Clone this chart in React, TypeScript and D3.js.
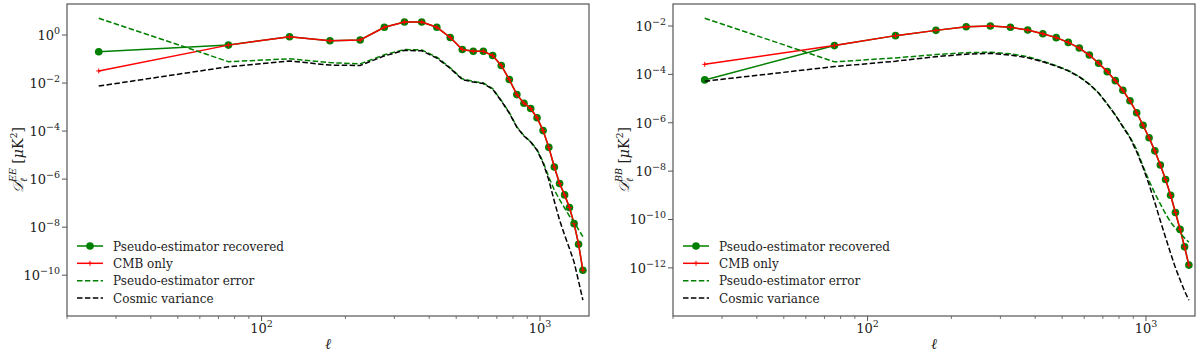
import React from 'react';
import * as d3 from 'd3';

// multipole bin centres
const ELL = [26, 76, 126, 176, 226, 276, 326, 376, 426, 476, 526, 576, 626, 676, 726,
  776, 826, 876, 926, 976, 1026, 1076, 1126, 1176, 1226, 1276, 1326, 1376, 1426];

// EE panel
const EE_RECOVERED = [2.0e-1, 3.8e-1, 8.5e-1, 5.8e-1, 6.2e-1, 2.1, 3.5, 3.5, 2.1, 7.9e-1,
  2.5e-1, 2.1e-1, 2.1e-1, 1.4e-1, 5.4e-2, 1.4e-2, 3.3e-3, 1.45e-3, 8.7e-4, 3.6e-4,
  1.05e-4, 2.1e-5, 3.2e-6, 6.6e-7, 2.2e-7, 6.6e-8, 1.4e-8, 1.95e-9, 1.6e-10];
const EE_CMB = [3.2e-2, 3.8e-1, 8.5e-1, 5.8e-1, 6.2e-1, 2.1, 3.5, 3.5, 2.1, 7.9e-1,
  2.5e-1, 2.1e-1, 2.1e-1, 1.4e-1, 5.4e-2, 1.4e-2, 3.3e-3, 1.45e-3, 8.7e-4, 3.6e-4,
  1.05e-4, 2.1e-5, 3.2e-6, 6.6e-7, 2.2e-7, 6.6e-8, 1.4e-8, 1.95e-9, 1.6e-10];
const EE_ERROR = [5.0, 7.8e-2, 1.02e-1, 7.1e-2, 6.3e-2, 1.5e-1, 2.5e-1, 2.4e-1, 1.2e-1, 4.3e-2,
  1.5e-2, 1.17e-2, 1.0e-2, 5.9e-3, 1.9e-3, 5.9e-4, 1.5e-4, 6.5e-5, 3.6e-5, 1.7e-5,
  5.2e-6, 1.2e-6, 3.5e-7, 1.4e-7, 6.2e-8, 2.9e-8, 1.6e-8, 7.9e-9, 4.0e-9];
const EE_COSMIC = [7.5e-3, 4.8e-2, 8.3e-2, 5.6e-2, 5.4e-2, 1.35e-1, 2.3e-1, 2.2e-1, 1.1e-1, 4.1e-2,
  1.4e-2, 1.1e-2, 9.5e-3, 5.6e-3, 1.8e-3, 5.6e-4, 1.45e-4, 6.2e-5, 3.5e-5, 1.6e-5,
  4.7e-6, 9.1e-7, 1.2e-7, 1.95e-8, 4.7e-9, 1.3e-9, 3.5e-10, 5.6e-11, 9.1e-12];

// BB panel
const BB_RECOVERED = [5.9e-5, 1.55e-3, 4.0e-3, 6.6e-3, 9.3e-3, 1.0e-2, 8.9e-3, 6.8e-3, 4.8e-3, 3.3e-3,
  2.1e-3, 1.23e-3, 6.3e-4, 2.9e-4, 1.3e-4, 5.5e-5, 2.2e-5, 8.1e-6, 2.6e-6, 7.9e-7,
  2.4e-7, 6.9e-8, 1.8e-8, 4.5e-9, 1.0e-9, 1.95e-10, 3.9e-11, 7.4e-12, 1.3e-12];
const BB_CMB = [2.6e-4, 1.55e-3, 4.0e-3, 6.6e-3, 9.3e-3, 1.0e-2, 8.9e-3, 6.8e-3, 4.8e-3, 3.3e-3,
  2.1e-3, 1.23e-3, 6.3e-4, 2.9e-4, 1.3e-4, 5.5e-5, 2.2e-5, 8.1e-6, 2.6e-6, 7.9e-7,
  2.4e-7, 6.9e-8, 1.8e-8, 4.5e-9, 1.0e-9, 1.95e-10, 3.9e-11, 7.4e-12, 1.3e-12];
const BB_ERROR = [2.1e-2, 3.3e-4, 4.8e-4, 6.6e-4, 7.9e-4, 8.3e-4, 7.1e-4, 5.4e-4, 3.5e-4, 2.3e-4,
  1.45e-4, 8.1e-5, 4.0e-5, 1.7e-5, 6.0e-6, 2.1e-6, 7.1e-7, 2.6e-7, 7.6e-8, 1.6e-8,
  4.0e-9, 1.2e-9, 4.4e-10, 1.7e-10, 7.8e-11, 4.4e-11, 2.8e-11, 1.7e-11, 1.15e-11];
const BB_COSMIC = [5.2e-5, 2.1e-4, 3.5e-4, 5.4e-4, 6.8e-4, 7.4e-4, 6.3e-4, 4.9e-4, 3.3e-4, 2.2e-4,
  1.4e-4, 7.9e-5, 3.9e-5, 1.7e-5, 5.9e-6, 2.1e-6, 6.8e-7, 2.4e-7, 6.3e-8, 1.4e-8,
  2.8e-9, 5.0e-10, 8.9e-11, 1.8e-11, 4.0e-12, 1.0e-12, 3.2e-13, 1.1e-13, 4.6e-14];

const X_MAJOR = [100, 1000];
const X_MINOR = [20, 30, 40, 50, 60, 70, 80, 90, 200, 300, 400, 500, 600, 700, 800, 900];
const EE_TICKS = [0, -2, -4, -6, -8, -10];
const BB_TICKS = [-2, -4, -6, -8, -10, -12];
const LEGEND = ['Pseudo-estimator recovered', 'CMB only', 'Pseudo-estimator error', 'Cosmic variance'];

const GREEN = '#008000';
const RED = '#ff0000';
const serif = { fontFamily: "'DejaVu Serif', serif" };

function Panel({ left, right, yDomain, yTicks, spec, recovered, cmb, error, cosmic }) {
  const top = 4;
  const bottom = 316;
  const x = d3.scaleLog().domain([20, 1500]).range([left, right]);
  const y = d3.scaleLog().domain(yDomain).range([top, bottom]);
  const line = d3.line<number>().x((_, i) => x(ELL[i])).y(d => y(d));

  const legendY = [246, 263.3, 280.7, 298];
  const lx = left + 10;

  return (
    <g>
      {/* data */}
      <path d={line(recovered)} fill="none" stroke={GREEN} strokeWidth={1.5} />
      {recovered.map((v, i) => (
        <circle key={'c' + i} cx={x(ELL[i])} cy={y(v)} r={3.8} fill={GREEN} />
      ))}
      <path d={line(cmb)} fill="none" stroke={RED} strokeWidth={1.5} />
      {cmb.map((v, i) => (
        <path key={'p' + i} d={`M${x(ELL[i]) - 2.5},${y(v)}h5M${x(ELL[i])},${y(v) - 2.5}v5`} stroke={RED} strokeWidth={1} />
      ))}
      <path d={line(error)} fill="none" stroke={GREEN} strokeWidth={1.5} strokeDasharray="5.5,2.4" />
      <path d={line(cosmic)} fill="none" stroke="#000" strokeWidth={1.5} strokeDasharray="5.5,2.4" />

      {/* frame */}
      <rect x={left} y={top} width={right - left} height={bottom - top} fill="none" stroke="#555" strokeWidth={1.2} />

      {/* x ticks */}
      {X_MAJOR.map(t => (
        <g key={'xm' + t}>
          <line x1={x(t)} x2={x(t)} y1={bottom} y2={bottom + 5} stroke="#555" strokeWidth={1} />
          <text x={x(t)} y={333} textAnchor="middle" style={serif} fontSize={13} fill="#222">
            10<tspan fontSize={9.5} dy={-6}>{Math.log10(t)}</tspan>
          </text>
        </g>
      ))}
      {X_MINOR.map(t => (
        <line key={'xn' + t} x1={x(t)} x2={x(t)} y1={bottom} y2={bottom + 3} stroke="#555" strokeWidth={0.8} />
      ))}
      <text x={(left + right) / 2} y={349} textAnchor="middle" style={serif} fontStyle="italic" fontSize={15} fill="#222">ℓ</text>

      {/* y ticks */}
      {yTicks.map(e => (
        <g key={'y' + e}>
          <line x1={left - 5} x2={left} y1={y(10 ** e)} y2={y(10 ** e)} stroke="#555" strokeWidth={1} />
          <text x={left - 7} y={y(10 ** e) + 5} textAnchor="end" style={serif} fontSize={13} fill="#222">
            10<tspan fontSize={9.5} dy={-6}>{e === 0 ? '0' : '\u2212' + Math.abs(e)}</tspan>
          </text>
        </g>
      ))}
      <text transform={`translate(${left - 44},${(top + bottom) / 2}) rotate(-90)`} textAnchor="middle"
        style={serif} fontSize={14} fill="#222">
        <tspan fontStyle="italic">𝒟</tspan>
        <tspan fontSize={9.5} fontStyle="italic" dy={4}>ℓ</tspan>
        <tspan fontSize={9.5} fontStyle="italic" dx={-4} dy={-11}>{spec}</tspan>
        <tspan dy={7}> [</tspan>
        <tspan fontStyle="italic">μ</tspan>
        <tspan>K</tspan>
        <tspan fontSize={9.5} dy={-6}>2</tspan>
        <tspan dy={6}>]</tspan>
      </text>

      {/* legend */}
      <line x1={lx} x2={lx + 26} y1={legendY[0]} y2={legendY[0]} stroke={GREEN} strokeWidth={1.5} />
      <circle cx={lx + 13} cy={legendY[0]} r={3.8} fill={GREEN} />
      <line x1={lx} x2={lx + 26} y1={legendY[1]} y2={legendY[1]} stroke={RED} strokeWidth={1.5} />
      <path d={`M${lx + 10.5},${legendY[1]}h5M${lx + 13},${legendY[1] - 2.5}v5`} stroke={RED} strokeWidth={1} />
      <line x1={lx} x2={lx + 26} y1={legendY[2]} y2={legendY[2]} stroke={GREEN} strokeWidth={1.5} strokeDasharray="5.5,2.4" />
      <line x1={lx} x2={lx + 26} y1={legendY[3]} y2={legendY[3]} stroke="#000" strokeWidth={1.5} strokeDasharray="5.5,2.4" />
      {LEGEND.map((t, i) => (
        <text key={t} x={lx + 36} y={legendY[i] + 4.5} style={serif} fontSize={12} fill="#222">{t}</text>
      ))}
    </g>
  );
}

export default function App() {
  return (
    <svg width={1200} height={355} style={{ position: 'absolute', left: 0, top: 0, background: '#fff' }}>
      <rect width={1200} height={355} fill="#fff" />
      <Panel left={67} right={589} yDomain={[10 ** 1.292, 10 ** -11.70]} yTicks={EE_TICKS} spec="EE"
        recovered={EE_RECOVERED} cmb={EE_CMB} error={EE_ERROR} cosmic={EE_COSMIC} />
      <Panel left={673} right={1195} yDomain={[10 ** -1.09, 10 ** -13.99]} yTicks={BB_TICKS} spec="BB"
        recovered={BB_RECOVERED} cmb={BB_CMB} error={BB_ERROR} cosmic={BB_COSMIC} />
    </svg>
  );
}
